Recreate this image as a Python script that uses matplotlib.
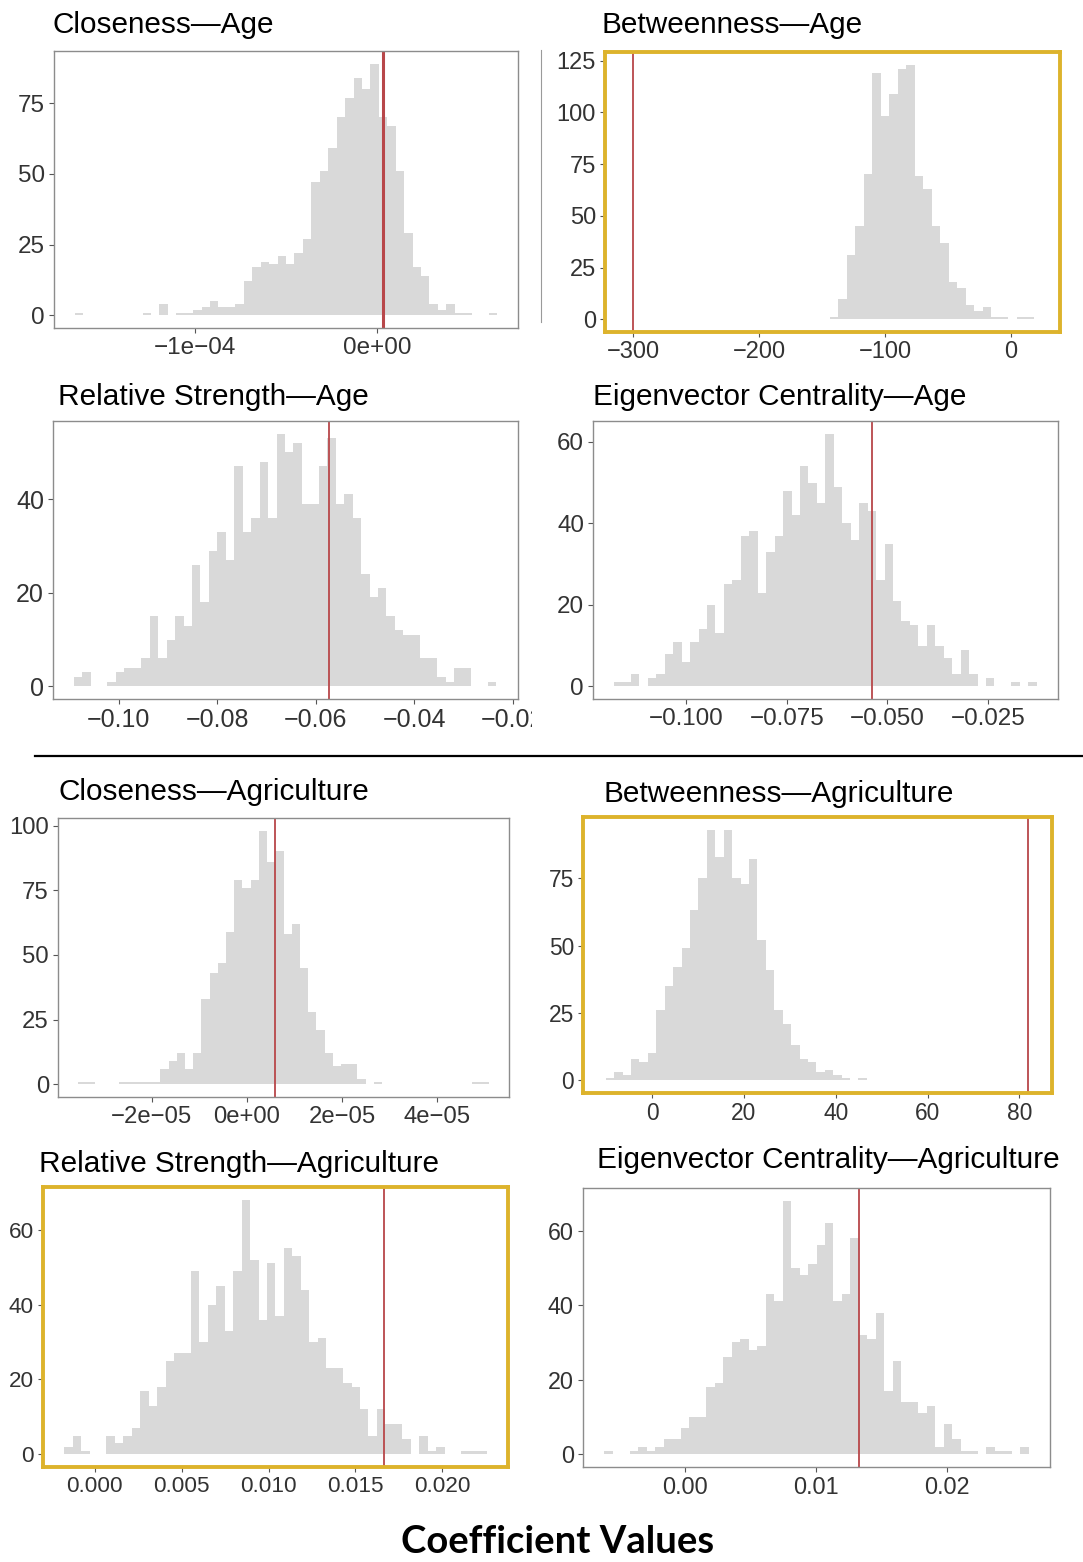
import numpy as np
import matplotlib.pyplot as plt
from matplotlib.transforms import Bbox, TransformedBbox

plt.rcParams['font.family'] = ['Liberation Sans', 'DejaVu Sans']

W, H = 1083, 1562
MINUS = '\u2212'

close_age_counts = [1, 0, 0, 0, 0, 0, 0, 0, 1, 0, 4, 0, 1, 1, 2, 3, 5, 3, 3, 4,
                    12, 17, 19, 18, 21, 18, 22, 27, 47, 51, 59, 70, 77, 84, 80, 89, 70, 67, 51, 29,
                    17, 14, 4, 2, 4, 1, 1, 0, 0, 1]
close_age_start, close_age_width = -1.655e-4, 4.62e-6
close_age_ref = 3.1e-6

betw_age_counts = [1, 10, 31, 45, 70, 119, 98, 109, 121, 123, 69, 63, 45, 37, 18, 15,
                   7, 4, 6, 1, 1, 0, 1, 1]
betw_age_start, betw_age_width = -143.8, 6.75
betw_age_ref = -300

rs_age_counts = [2, 3, 0, 0, 1, 3, 4, 4, 6, 15, 6, 10, 15, 13, 26, 18, 29, 33, 27, 47,
                 33, 36, 48, 36, 54, 50, 52, 39, 39, 47, 53, 39, 41, 36, 24, 19, 21, 15, 12, 11,
                 11, 6, 6, 2, 1, 4, 4, 0, 0, 1]
rs_age_start, rs_age_width = -0.10914, 0.0017166
rs_age_ref = -0.0572

eig_age_counts = [1, 1, 3, 0, 2, 3, 8, 11, 6, 11, 14, 20, 13, 25, 26, 37, 38, 23, 33, 37,
                  48, 42, 54, 50, 45, 62, 49, 40, 36, 45, 43, 26, 35, 21, 16, 15, 10, 15, 10, 7,
                  3, 9, 3, 0, 2, 0, 0, 1, 0, 1]
eig_age_start, eig_age_width = -0.11798, 0.0021014
eig_age_ref = -0.0538

close_agr_counts = [1, 1, 0, 0, 0, 1, 1, 1, 1, 1, 6, 9, 12, 6, 12, 33, 43, 47, 59, 79,
                    76, 79, 98, 86, 90, 58, 62, 45, 28, 21, 12, 7, 8, 8, 2, 0, 1, 0, 0, 0,
                    0, 0, 0, 0, 0, 0, 0, 0, 1, 1]
close_agr_start, close_agr_width = -3.544e-5, 1.7246e-6
close_agr_ref = 5.82e-6

betw_agr_counts = [1, 3, 2, 8, 7, 10, 26, 35, 42, 49, 63, 75, 93, 83, 93, 75, 73, 82, 52, 41,
                   26, 21, 13, 8, 7, 3, 4, 2, 1, 0, 1]
betw_agr_start, betw_agr_width = -10.1, 1.835
betw_agr_ref = 81.9

rs_agr_counts = [2, 5, 1, 0, 0, 5, 3, 5, 7, 17, 13, 18, 25, 27, 27, 49, 30, 40, 45, 33,
                 49, 68, 52, 36, 51, 37, 55, 53, 44, 30, 31, 23, 23, 19, 18, 12, 5, 12, 8, 8,
                 4, 0, 5, 1, 2, 0, 0, 1, 1, 1]
rs_agr_start, rs_agr_width = -0.00175, 0.000486
rs_agr_ref = 0.01665

eig_agr_counts = [1, 0, 0, 1, 2, 1, 2, 4, 4, 7, 10, 10, 18, 19, 26, 30, 31, 28, 29, 43,
                  41, 68, 50, 48, 51, 56, 62, 41, 43, 58, 32, 31, 38, 17, 25, 14, 14, 11, 13, 2,
                  8, 4, 1, 1, 0, 2, 1, 1, 0, 2]
eig_agr_start, eig_agr_width = -0.0062, 0.0006486
eig_agr_ref = 0.01327

# axis ticks
close_age_xticks = [-1e-4, 0.0]
close_age_xlabels = [MINUS + '1e' + MINUS + '04', '0e+00']
betw_age_xticks = [-300, -200, -100, 0]
rs_age_xticks = [-0.10, -0.08, -0.06, -0.04, -0.02]
eig_age_xticks = [-0.100, -0.075, -0.050, -0.025]
close_agr_xticks = [-2e-5, 0.0, 2e-5, 4e-5]
close_agr_xlabels = [MINUS + '2e' + MINUS + '05', '0e+00', '2e' + MINUS + '05', '4e' + MINUS + '05']
betw_agr_xticks = [0, 20, 40, 60, 80]
rs_agr_xticks = [0.000, 0.005, 0.010, 0.015, 0.020]
eig_agr_xticks = [0.00, 0.01, 0.02]


def fmt(vals, nd):
    return [('{:.%df}' % nd).format(v).replace('-', MINUS) for v in vals]


fig = plt.figure(figsize=(W / 100, H / 100), dpi=100)


def add_panel(box, title, title_pos, counts, start, width, ref, xlim,
              xticks, xlabels, yticks, frame=None, ref_lw=1.3, lsize=17):
    left, top, right, bottom = box
    ax = fig.add_axes([left / W, 1 - bottom / H, (right - left) / W, (bottom - top) / H])
    counts = np.asarray(counts, dtype=float)
    edges = start + width * np.arange(len(counts) + 1)
    ax.stairs(counts, edges, fill=True, color='#D9D9D9', linewidth=0)
    ax.axvline(ref, color='#B8474A', lw=ref_lw)
    ax.set_xlim(xlim)
    ymax = counts.max()
    ax.set_ylim(-0.05 * ymax, 1.05 * ymax)
    ax.set_xticks(xticks)
    ax.set_xticklabels(xlabels)
    ax.set_yticks(yticks)
    ax.tick_params(length=3.5, width=0.8, color='#555555', labelcolor='#333333',
                   labelsize=lsize, pad=3)
    for sp in ax.spines.values():
        if frame:
            sp.set_color(frame)
            sp.set_linewidth(2.8)
        else:
            sp.set_color('#8C8C8C')
            sp.set_linewidth(1.0)
    fig.text(title_pos[0] / W, 1 - title_pos[1] / H, title, fontsize=21.4,
             color='black', va='baseline', ha='left')
    return ax


YEL = '#DDB32C'

add_panel((54, 51, 518, 328), 'Closeness\u2014Age', (53, 33),
          close_age_counts, close_age_start, close_age_width, close_age_ref,
          (-1.770e-4, 7.70e-5), close_age_xticks, close_age_xlabels, [0, 25, 50, 75],
          ref_lw=2.2, lsize=17.5)

add_panel((605, 52, 1060, 332), 'Betweenness\u2014Age', (602, 33),
          betw_age_counts, betw_age_start, betw_age_width, betw_age_ref,
          (-322.5, 39), betw_age_xticks, fmt(betw_age_xticks, 0), [0, 25, 50, 75, 100, 125],
          frame=YEL, lsize=17)

ax3 = add_panel((53, 421, 518, 699), 'Relative Strength\u2014Age', (58, 405),
                rs_age_counts, rs_age_start, rs_age_width, rs_age_ref,
                (-0.11333, -0.01892), rs_age_xticks, fmt(rs_age_xticks, 2), [0, 20, 40],
                lsize=18)
# the last tick label is cut off by the neighbouring panel in the original
clip = TransformedBbox(Bbox([[0, 0], [532 / W, 1]]), fig.transFigure)
for lab in ax3.get_xticklabels():
    lab.set_clip_box(clip)
    lab.set_clip_on(True)

add_panel((593, 421, 1058, 699), 'Eigenvector Centrality\u2014Age', (593, 405),
          eig_age_counts, eig_age_start, eig_age_width, eig_age_ref,
          (-0.12320, -0.00761), eig_age_xticks, fmt(eig_age_xticks, 3), [0, 20, 40, 60],
          lsize=17.4)

add_panel((58, 818, 509, 1097), 'Closeness\u2014Agriculture', (58, 800),
          close_agr_counts, close_agr_start, close_agr_width, close_agr_ref,
          (-3.975e-5, 5.510e-5), close_agr_xticks, close_agr_xlabels, [0, 25, 50, 75, 100],
          lsize=17.2)

add_panel((583, 817, 1052, 1093), 'Betweenness\u2014Agriculture', (603, 802),
          betw_agr_counts, betw_agr_start, betw_agr_width, betw_agr_ref,
          (-15.05, 87.1), betw_agr_xticks, fmt(betw_agr_xticks, 0), [0, 25, 50, 75],
          frame=YEL, lsize=16.4)

add_panel((43, 1187, 508, 1467), 'Relative Strength\u2014Agriculture', (39, 1172),
          rs_agr_counts, rs_agr_start, rs_agr_width, rs_agr_ref,
          (-0.002966, 0.02377), rs_agr_xticks, fmt(rs_agr_xticks, 3), [0, 20, 40, 60],
          frame=YEL, lsize=16.2)

add_panel((583, 1188, 1050, 1467), 'Eigenvector Centrality\u2014Agriculture', (597, 1168),
          eig_agr_counts, eig_agr_start, eig_agr_width, eig_agr_ref,
          (-0.00782, 0.02785), eig_agr_xticks, fmt(eig_agr_xticks, 2), [0, 20, 40, 60],
          lsize=16.8)

# separator between the Age and Agriculture blocks
fig.add_artist(plt.Line2D([35 / W, 1.0], [1 - 756 / H, 1 - 756 / H],
                          color='black', lw=1.6, transform=fig.transFigure))
# leftover frame edge between the two top panels
fig.add_artist(plt.Line2D([541 / W, 541 / W], [1 - 50 / H, 1 - 322 / H],
                          color='#9A9A9A', lw=0.8, transform=fig.transFigure))

fig.text(558 / W, 1 - 1553 / H, 'Coefficient Values', fontsize=27.5, fontweight='bold',
         family=['Lato', 'DejaVu Sans'], ha='center', va='baseline')

plt.savefig('out.png', dpi=100)
